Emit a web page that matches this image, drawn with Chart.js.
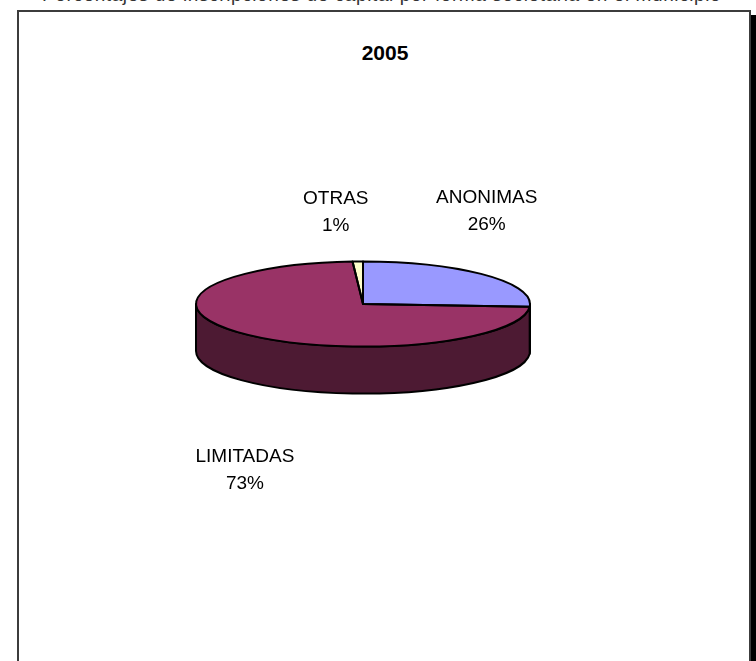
<!DOCTYPE html>
<html>
<head>
<meta charset="utf-8">
<script src="https://cdn.jsdelivr.net/npm/chart.js@4.4.1/dist/chart.umd.min.js"></script>
<style>
  html, body { margin: 0; padding: 0; background: #fff; overflow: hidden; }
  body { width: 756px; height: 661px; position: relative; font-family: "Liberation Sans", Arial, sans-serif; }
  .header { position: absolute; top: -16.5px; left: 42px; font-size: 19px; letter-spacing: 0.6px; color: #333; white-space: nowrap; }
  .frame { position: absolute; left: 17px; top: 10px; width: 730px; height: 700px; border: 2px solid #3c3c3c; box-shadow: 5px 5px 0 #000; }
  .year { position: absolute; top: 41px; left: 0; width: 770px; text-align: center; font-weight: bold; font-size: 21px; color: #000; }
  canvas { position: absolute; left: 0; top: 0; }
</style>
</head>
<body>
<div class="header">Porcentajes de inscripciones de capital por forma societaria en el municipio</div>
<div class="frame"></div>
<div class="year">2005</div>
<canvas id="chart" width="756" height="661"></canvas>
<script>
const categories = ['ANONIMAS', 'LIMITADAS', 'OTRAS'];
const shares = [26, 73, 1];
const topColors = ['#9999ff', '#993366', '#ffffcc'];
const sideColors = ['#4d4d80', '#4d1a33', '#808066'];

// pie is flattened to an ellipse and given a cylinder wall
const tilt = 0.255;
const depth = 47;
// label centre offsets from each slice's rim anchor
const labelShift = [[2, -64], [0, 89], [-22, -50]];

const pie3d = {
  id: 'pie3d',
  beforeDatasetsDraw(chart) {
    const ctx = chart.ctx;
    const arcs = chart.getDatasetMeta(0).data;
    const { x: cx, y: cy, outerRadius: r } = arcs[0];
    const ry = r * tilt;
    ctx.save();
    ctx.lineWidth = 2;
    ctx.strokeStyle = '#000';
    ctx.lineJoin = 'round';
    arcs.forEach((a, i) => {
      const b1 = Math.max(a.startAngle, 0);
      const b2 = Math.min(a.endAngle, Math.PI);
      if (b1 >= b2) return;
      ctx.beginPath();
      ctx.ellipse(cx, cy + depth, r, ry, 0, b1, b2);
      ctx.ellipse(cx, cy, r, ry, 0, b2, b1, true);
      ctx.closePath();
      ctx.fillStyle = sideColors[i];
      ctx.fill();
      ctx.stroke();
    });
    ctx.restore();
    ctx.save();
    ctx.translate(cx, cy);
    ctx.scale(1, tilt);
    ctx.translate(-cx, -cy);
  },
  afterDatasetsDraw(chart) {
    const ctx = chart.ctx;
    ctx.restore();
    const arcs = chart.getDatasetMeta(0).data;
    const { x: cx, y: cy, outerRadius: r } = arcs[0];
    const ry = r * tilt;
    ctx.save();
    ctx.lineWidth = 2;
    ctx.strokeStyle = '#000';
    ctx.lineJoin = 'round';
    arcs.forEach((a) => {
      ctx.beginPath();
      ctx.moveTo(cx, cy);
      ctx.ellipse(cx, cy, r, ry, 0, a.startAngle, a.endAngle);
      ctx.closePath();
      ctx.stroke();
    });
    // labels
    ctx.fillStyle = '#000';
    ctx.font = '19px "Liberation Sans", Arial, sans-serif';
    ctx.textAlign = 'center';
    ctx.textBaseline = 'middle';
    arcs.forEach((a, i) => {
      const mid = (a.startAngle + a.endAngle) / 2;
      const s = Math.sin(mid);
      const ax = cx + Math.cos(mid) * r;
      const ay = cy + s * ry + (s > 0 ? depth : 0);
      const lx = ax + labelShift[i][0];
      const ly = ay + labelShift[i][1];
      ctx.fillText(categories[i], lx, ly - 13);
      ctx.fillText(shares[i] + '%', lx, ly + 14);
    });
    ctx.restore();
  }
};

new Chart(document.getElementById('chart'), {
  type: 'pie',
  data: {
    labels: categories,
    datasets: [{
      data: shares,
      backgroundColor: topColors,
      borderWidth: 0
    }]
  },
  options: {
    responsive: false,
    animation: false,
    layout: { padding: { left: 196, right: 226, top: 137, bottom: 190 } },
    plugins: {
      legend: { display: false },
      tooltip: { enabled: false }
    }
  },
  plugins: [pie3d]
});
</script>
</body>
</html>
